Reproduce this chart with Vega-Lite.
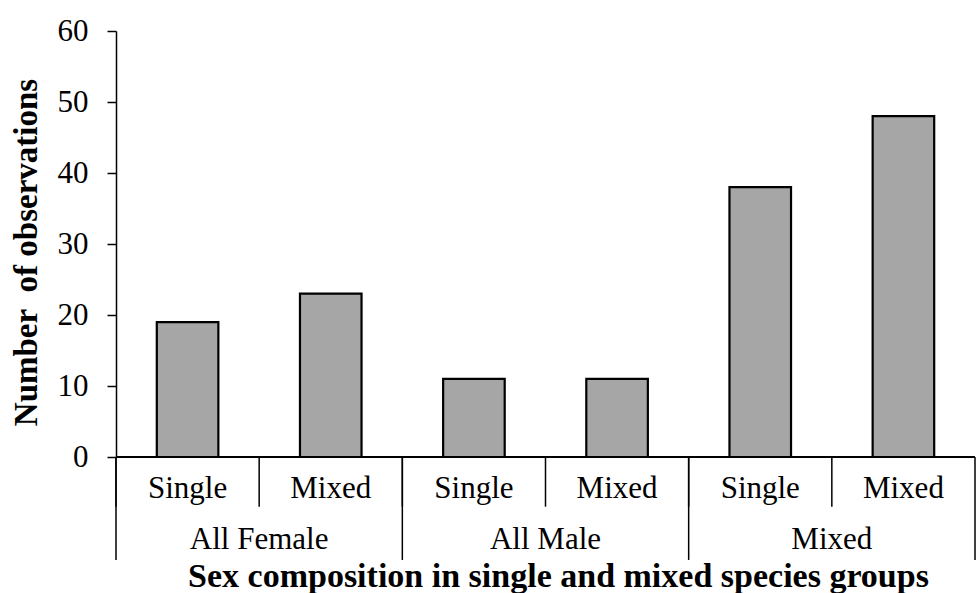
{
  "$schema": "https://vega.github.io/schema/vega-lite/v6.json",
  "width": 859,
  "height": 426,
  "autosize": {"type": "none"},
  "padding": {"left": 116, "top": 31, "right": 1, "bottom": 136},
  "background": "white",
  "config": {
    "view": {"stroke": null},
    "font": "Liberation Serif",
    "axis": {"labelColor": "black", "titleColor": "black", "grid": false, "domainWidth": 1.5, "tickWidth": 1.5}
  },
  "data": {
    "values": [
      {"group": "All Female", "type": "Single", "key": "All Female|Single", "count": 19},
      {"group": "All Female", "type": "Mixed", "key": "All Female|Mixed", "count": 23},
      {"group": "All Male", "type": "Single", "key": "All Male|Single", "count": 11},
      {"group": "All Male", "type": "Mixed", "key": "All Male|Mixed", "count": 11},
      {"group": "Mixed", "type": "Single", "key": "Mixed|Single", "count": 38},
      {"group": "Mixed", "type": "Mixed", "key": "Mixed|Mixed", "count": 48}
    ]
  },
  "layer": [
    {
      "mark": {"type": "bar", "width": {"band": 0.43}, "fill": "#a6a6a6", "stroke": "black", "strokeWidth": 2.2},
      "encoding": {
        "x": {
          "field": "key", "type": "nominal", "sort": null,
          "scale": {"paddingInner": 0, "paddingOuter": 0},
          "axis": {
            "labelAngle": 0, "domain": false, "ticks": false, "tickSize": 0,
            "labelExpr": "split(datum.value, '|')[1]",
            "labelFontSize": 31, "labelBaseline": "middle", "labelPadding": 31,
            "title": "Sex composition in single and mixed species groups",
            "titleFontSize": 34, "titleFontWeight": "bold",
            "titleBaseline": "alphabetic", "titleY": 129, "titleX": 442, "titleAlign": "center"
          }
        },
        "y": {
          "field": "count", "type": "quantitative",
          "scale": {"domain": [0, 60]},
          "axis": {
            "values": [0, 10, 20, 30, 40, 50, 60], "domainColor": "black", "tickColor": "black",
            "title": "Number\u00a0 of observations",
            "titleFontSize": 33, "titleFontWeight": "bold",
            "titlePadding": 14, "titleY": 221, "titleAlign": "center",
            "labelFontSize": 31, "labelPadding": 19, "tickSize": 9
          }
        }
      }
    },
    {
      "mark": {"type": "rule", "color": "black", "strokeWidth": 1.5},
      "encoding": {"y": {"datum": 0, "type": "quantitative"}}
    },
    {
      "mark": {"type": "rule", "color": "black", "strokeWidth": 1.5, "clip": false},
      "encoding": {
        "x": {"field": "key", "type": "nominal", "sort": null, "bandPosition": 0},
        "y": {"datum": 0, "type": "quantitative"},
        "y2": {"datum": -7}
      }
    },
    {
      "transform": [{"filter": "datum.type == 'Single'"}],
      "mark": {"type": "rule", "color": "black", "strokeWidth": 1.5, "clip": false},
      "encoding": {
        "x": {"field": "key", "type": "nominal", "sort": null, "bandPosition": 0},
        "y": {"datum": 0, "type": "quantitative"},
        "y2": {"datum": -14.5}
      }
    },
    {
      "transform": [{"filter": "datum.key == 'Mixed|Mixed'"}],
      "mark": {"type": "rule", "color": "black", "strokeWidth": 1.5, "clip": false},
      "encoding": {
        "x": {"field": "key", "type": "nominal", "sort": null, "bandPosition": 1},
        "y": {"datum": 0, "type": "quantitative"},
        "y2": {"datum": -14.5}
      }
    },
    {
      "transform": [{"filter": "datum.type == 'Mixed'"}],
      "mark": {"type": "text", "fontSize": 31, "baseline": "middle", "align": "center", "color": "black", "clip": false},
      "encoding": {
        "x": {"field": "key", "type": "nominal", "sort": null, "bandPosition": 0},
        "y": {"datum": -11.7, "type": "quantitative"},
        "text": {"field": "group"}
      }
    }
  ]
}
